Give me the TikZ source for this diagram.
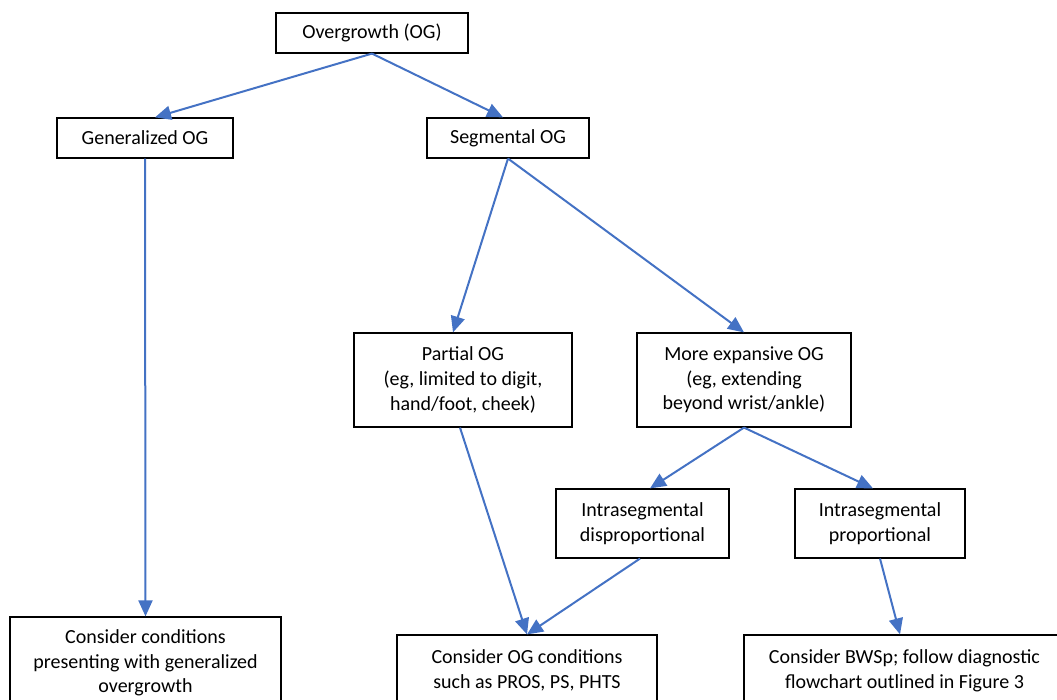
\documentclass[tikz,border=0pt]{standalone}
\usepackage{fontspec}
\setmainfont{Carlito}
\usepackage{tikz}
\usetikzlibrary{arrows.meta}

\begin{document}
\begin{tikzpicture}[
  x=1pt, y=1pt,
  box/.style={draw=black, line width=1.2pt, fill=white, align=center,
              inner sep=0pt, font=\fontsize{20}{24.6}\selectfont},
  arrow/.style={-{Triangle[length=16pt, width=14pt]}, line width=2pt,
                draw=ogblue, fill=ogblue},
]
\definecolor{ogblue}{HTML}{4472C4}
\clip (0,0) rectangle (1057,700);
\useasboundingbox (0,0) rectangle (1057,700);

%% ── Racine ──────────────────────────────────────────────────────────────
\node[box, minimum width=192pt, minimum height=40pt] (og) at (372,667)
  {Overgrowth (OG)};

%% ── Niveau 1 ────────────────────────────────────────────────────────────
\node[box, minimum width=176pt, minimum height=40pt] (gen) at (145,562)
  {Generalized OG};
\node[box, minimum width=162pt, minimum height=40pt] (seg) at (508,562)
  {Segmental OG};

%% ── Niveau 2 ────────────────────────────────────────────────────────────
\node[box, minimum width=218pt, minimum height=94pt] (partial) at (463,320)
  {Partial OG\\(eg, limited to digit,\\hand/foot, cheek)};
\node[box, minimum width=214pt, minimum height=94pt] (expans) at (744,320)
  {More expansive OG\\(eg, extending\\beyond wrist/ankle)};

%% ── Niveau 3 ────────────────────────────────────────────────────────────
\node[box, minimum width=173pt, minimum height=69pt] (disprop) at (642.5,176.5)
  {Intrasegmental\\disproportional};
\node[box, minimum width=170pt, minimum height=69pt] (prop) at (880,176.5)
  {Intrasegmental\\proportional};

%% ── Conclusions (bas) ───────────────────────────────────────────────────
\node[box, minimum width=271pt, minimum height=92pt] (gencond) at (145.5,37)
  {Consider conditions\\presenting with generalized\\overgrowth};
\node[box, minimum width=260pt, minimum height=71pt] (ogcond) at (527,29.5)
  {Consider OG conditions\\such as PROS, PS, PHTS};
\node[box, minimum width=321pt, minimum height=71pt] (bwsp) at (904.5,29.5)
  {Consider BWSp; follow diagnostic\\flowchart outlined in Figure 3};

%% ── Flèches ─────────────────────────────────────────────────────────────
\draw[arrow] (og.south) -- ([xshift=10pt]gen.north);
\draw[arrow] (og.south) -- ([xshift=-5pt]seg.north);
\draw[arrow] (gen.south) -- (gencond.north);
\draw[arrow] (seg.south) -- ([xshift=-10pt]partial.north);
\draw[arrow] (seg.south) -- (expans.north);
\draw[arrow] ([xshift=-3pt]partial.south) -- (ogcond.north);
\draw[arrow] (expans.south) -- ([xshift=7.5pt]disprop.north);
\draw[arrow] (expans.south) -- ([xshift=-7pt]prop.north);
\draw[arrow] ([xshift=-2.5pt]disprop.south) -- (ogcond.north);
\draw[arrow] (prop.south) -- ([xshift=-4.5pt]bwsp.north);

\end{tikzpicture}
\end{document}
